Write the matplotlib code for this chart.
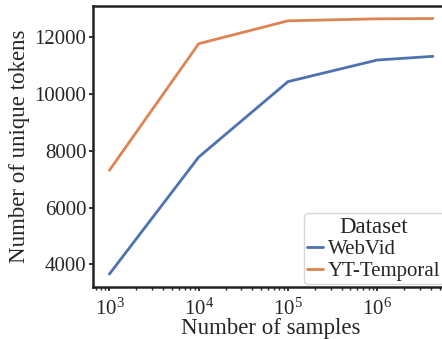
import matplotlib
matplotlib.use("Agg")
import matplotlib.pyplot as plt
import seaborn as sns

samples = [1e3, 1e4, 1e5, 1e6, 4.2e6]
webvid = [3660, 7775, 10430, 11190, 11320]
yt_temporal = [7310, 11765, 12570, 12640, 12650]
series_names = ["WebVid", "YT-Temporal"]

sns.set_theme(style="ticks")
plt.rcParams['font.family'] = ['Liberation Serif', 'DejaVu Serif']
plt.rcParams['mathtext.fontset'] = 'stix'
colors = sns.color_palette("deep")

fig = plt.figure(figsize=(4.42, 3.39), dpi=100)
ax = fig.add_axes([0.211, 0.154, 0.805, 0.829])
ax.plot(samples, webvid, color=colors[0], lw=2, label=series_names[0])
ax.plot(samples, yt_temporal, color=colors[1], lw=2, label=series_names[1])
ax.set_xscale("log")
ax.set_xlabel("Number of samples", fontsize=16.5, labelpad=-1)
ax.set_ylabel("Number of unique tokens", fontsize=16.5, labelpad=3)
ax.tick_params(axis="both", labelsize=15, width=1.3, length=3, pad=2, color="#222222")
ax.tick_params(axis="x", which="major", pad=5.5)
ax.tick_params(axis="x", which="minor", width=1, length=2)
ax.set_yticks([4000, 6000, 8000, 10000, 12000])
for s in ax.spines.values():
    s.set_linewidth(1.8)
    s.set_color("#222222")
leg = ax.legend(title="Dataset", loc="lower right", fontsize=15, title_fontsize=16.5,
                handlelength=0.75, handletextpad=0.25, borderpad=0.15, labelspacing=0.1,
                bbox_to_anchor=(1.004, 0.162), bbox_transform=fig.transFigure,
                borderaxespad=0, frameon=True)
fig.savefig("out.png", dpi=100)
